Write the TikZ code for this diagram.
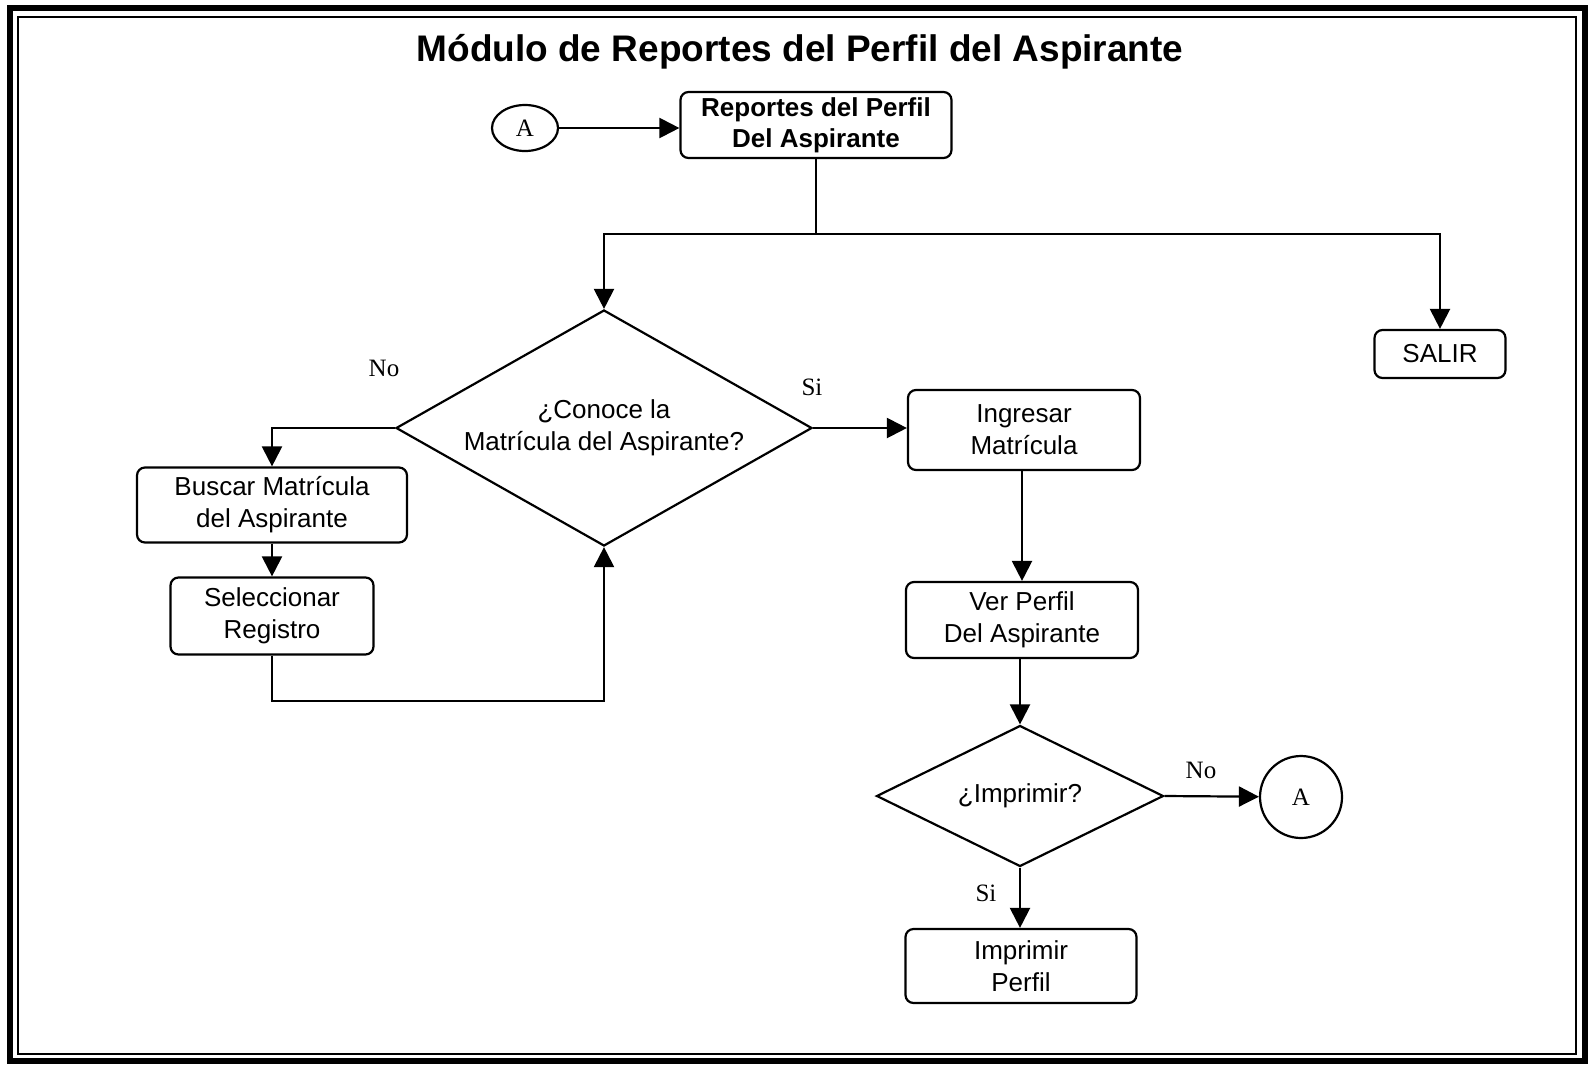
\documentclass[tikz,border=0pt]{standalone}
\usepackage{fontspec}
\setmainfont{Liberation Sans}
\newfontfamily\labelfont{Liberation Serif}
\usetikzlibrary{shapes.geometric,arrows.meta}

\begin{document}
\begin{tikzpicture}[x=1pt, y=-1pt,
	line/.style={line width=2.2pt},
	flow/.style={line width=2.2pt, -{Triangle[length=20pt,width=20pt]}},
	box/.style={draw, line width=2.2pt, rounded corners=8pt, inner sep=0pt, align=center, font=\fontsize{26}{32}\selectfont},
	decision/.style={draw, diamond, line width=2.2pt, inner sep=0pt, align=center, font=\fontsize{26}{32}\selectfont},
	connector/.style={draw, ellipse, line width=2.2pt, inner sep=0pt, font=\labelfont\fontsize{25}{28}\selectfont},
	answer/.style={font=\labelfont\fontsize{25}{28}\selectfont}]
	\useasboundingbox (0,0) rectangle (1592,1066);

	%Frame
	\draw[line width=6pt] (10,8) rectangle (1585,1061);
	\draw[line width=1.8pt] (18,17) rectangle (1576,1054);
	\node[anchor=base, font=\bfseries\fontsize{37}{40}\selectfont] (title) at (800,61) {Módulo de Reportes del Perfil del Aspirante};

	%Nodes
	\node[connector, minimum width=66pt, minimum height=46pt] (a1) at (525,128) {A};
	\node[box, minimum width=271pt, minimum height=66pt, font=\bfseries\fontsize{26}{31}\selectfont] (rep) at (816,125) {Reportes del Perfil\\Del Aspirante};
	\node[box, minimum width=131pt, minimum height=48pt] (salir) at (1440,354) {SALIR};
	\node[decision, minimum width=416pt, minimum height=236pt, aspect=1.76] (cono) at (604,428) {¿Conoce la\\Matrícula del Aspirante?};
	\node[box, minimum width=270pt, minimum height=75pt] (buscar) at (272,505) {Buscar Matrícula\\del Aspirante};
	\node[box, minimum width=203pt, minimum height=77pt] (selec) at (272,616) {Seleccionar\\Registro};
	\node[box, minimum width=232pt, minimum height=80pt] (ingresar) at (1024,430) {Ingresar\\Matrícula};
	\node[box, minimum width=232pt, minimum height=76pt] (ver) at (1022,620) {Ver Perfil\\Del Aspirante};
	\node[decision, minimum width=287pt, minimum height=141pt, aspect=2.04] (impr) at (1020,796) {¿Imprimir?};
	\node[connector, circle, minimum size=82pt] (a2) at (1301,797) {A};
	\node[box, minimum width=231pt, minimum height=74pt] (imprbox) at (1021,966) {Imprimir\\Perfil};

	%Labels
	\node[answer] (no1) at (384,368) {No};
	\node[answer] (si1) at (812,387) {Si};
	\node[answer] (no2) at (1201,770) {No};
	\node[answer] (si2) at (986,893) {Si};

	%Connectors
	\coordinate (split) at (816,234);
	\coordinate (back) at (604,701);
	\draw[flow] (a1) -- (a1 -| rep.west);
	\draw[line] (rep.south) -- (split);
	\draw[flow] (split) -| (cono.north);
	\draw[flow] (split) -| (salir.north);
	\draw[flow] (cono.west) -| (buscar.north);
	\draw[flow] (buscar) -- (selec);
	\draw[flow] (selec.south) |- (back) -- (cono.south);
	\draw[flow] (cono.east) -- (cono.east -| ingresar.west);
	\draw[flow] (ingresar.south -| ver.north) -- (ver.north);
	\draw[flow] (ver.south -| impr.north) -- (impr.north);
	\draw[flow] (impr.east) -- (a2);
	\draw[flow] (impr.south) -- (impr.south |- imprbox.north);
\end{tikzpicture}
\end{document}
